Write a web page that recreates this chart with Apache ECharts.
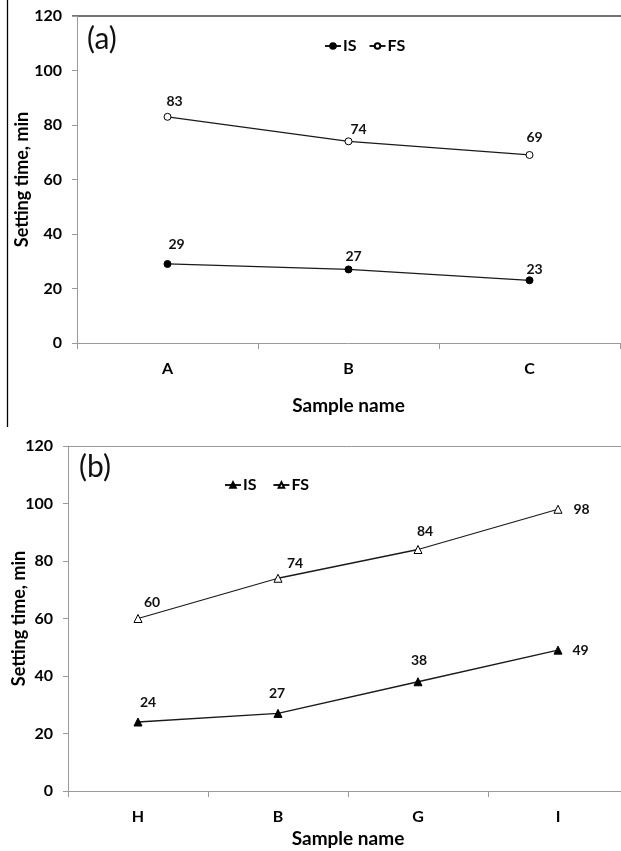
<!DOCTYPE html>
<html>
<head>
<meta charset="utf-8">
<script src="https://cdn.jsdelivr.net/npm/echarts@6/dist/echarts.min.js"></script>
<style>
  html, body { margin: 0; padding: 0; background: #fff; overflow: hidden; }
  #chart { width: 640px; height: 851px; }
</style>
</head>
<body>
<div id="chart"></div>
<script>
// Panel (a): samples A–C
var categoriesA = ['A', 'B', 'C'];
var initialSetA = [29, 27, 23];
var finalSetA = [83, 74, 69];

// Panel (b): samples H, B, G, I
var categoriesB = ['H', 'B', 'G', 'I'];
var initialSetB = [24, 27, 38, 49];
var finalSetB = [60, 74, 84, 98];

var yTicks = [0, 20, 40, 60, 80, 100, 120];

var FONT = 'Lato, "Open Sans", sans-serif';

// label placement for each point: [dx, dy, side]
var labelPlaceA = {
  IS: [[9, -3], [5, 3], [5, 5]],
  FS: [[7, 1], [10, 4], [5, -1]]
};
var labelPlaceB = {
  IS: [[10, -3], [-1, -3], [1, -5], [17, 0, 'right']],
  FS: [[14, 0], [17, 2], [7, -2], [18, 0, 'right']]
};

function buildData(values, place) {
  return values.map(function (v, i) {
    var p = place[i];
    var side = p[2] || 'top';
    return {
      value: v,
      label: {
        position: side,
        distance: side === 'top' ? 5 : 0,
        offset: side === 'top' ? [p[0], p[1]] : [p[0] - 7, p[1]]
      }
    };
  });
}

function lineSeries(name, values, place, idx, symbol, filled, size) {
  return {
    type: 'line',
    name: name,
    xAxisIndex: idx,
    yAxisIndex: idx,
    data: buildData(values, place),
    symbol: symbol,
    symbolSize: size,
    showAllSymbol: true,
    lineStyle: { color: '#1a1a1a', width: 1.3 },
    itemStyle: {
      color: filled ? '#000' : '#fff',
      borderColor: '#000',
      borderWidth: 1
    },
    label: {
      show: true,
      color: '#111',
      fontFamily: FONT,
      fontWeight: 'bold',
      fontSize: 14
    },
    emphasis: { disabled: true },
    animation: false,
    z: 3
  };
}

function yAxisCfg(idx) {
  return {
    type: 'value',
    gridIndex: idx,
    min: 0,
    max: yTicks[yTicks.length - 1],
    interval: yTicks[1] - yTicks[0],
    name: 'Setting time, min',
    nameLocation: 'middle',
    nameGap: idx === 0 ? 46 : 40,
    nameRotate: 90,
    nameMoveOverlap: false,
    nameTextStyle: { color: '#000', fontFamily: FONT, fontWeight: 'bold', fontSize: 18 },
    axisLine: { show: true, lineStyle: { color: '#9a9a9a', width: 1 } },
    axisTick: { show: true, length: 5, lineStyle: { color: '#9a9a9a' } },
    axisLabel: {
      color: '#000', fontFamily: FONT, fontWeight: 'bold', fontSize: 16, margin: 15
    },
    splitLine: { show: false }
  };
}

function xAxisCfg(idx, cats, gap) {
  return {
    type: 'category',
    gridIndex: idx,
    data: cats,
    boundaryGap: true,
    name: 'Sample name',
    nameLocation: 'middle',
    nameGap: gap,
    nameMoveOverlap: false,
    nameTextStyle: { color: '#000', fontFamily: FONT, fontWeight: 'bold', fontSize: 19 },
    axisLine: { show: true, lineStyle: { color: '#9a9a9a', width: 1 } },
    axisTick: { show: true, length: 6, alignWithLabel: false, lineStyle: { color: '#9a9a9a' } },
    axisLabel: { color: '#000', fontFamily: FONT, fontWeight: 'bold', fontSize: 16, margin: 18 }
  };
}

var chart = echarts.init(document.getElementById('chart'), null, { renderer: 'canvas' });

var legendText = { color: '#000', fontFamily: FONT, fontWeight: 'bold', fontSize: 16, padding: [0, 0, 0, -3] };

var option = {
  backgroundColor: '#fff',
  animation: false,
  grid: [
    { left: 77, width: 543, top: 16, height: 327, outerBoundsMode: 'none', containLabel: false },
    { left: 68, width: 560, top: 446, height: 345, outerBoundsMode: 'none', containLabel: false }
  ],
  legend: [
    {
      data: ['IS', 'FS'],
      left: 319, top: 33,
      itemWidth: 16, itemHeight: 7, itemGap: 12,
      textStyle: legendText,
      selectedMode: false
    },
    {
      data: ['IS ', 'FS '],
      left: 219, top: 472,
      itemWidth: 16, itemHeight: 7, itemGap: 12,
      textStyle: legendText,
      selectedMode: false
    }
  ],
  xAxis: [xAxisCfg(0, categoriesA, 53), xAxisCfg(1, categoriesB, 38)],
  yAxis: [yAxisCfg(0), yAxisCfg(1)],
  series: [
    lineSeries('IS', initialSetA, labelPlaceA.IS, 0, 'circle', true, 7),
    lineSeries('FS', finalSetA, labelPlaceA.FS, 0, 'circle', false, 7),
    lineSeries('IS ', initialSetB, labelPlaceB.IS, 1, 'triangle', true, 8),
    lineSeries('FS ', finalSetB, labelPlaceB.FS, 1, 'triangle', false, 8)
  ],
  graphic: [
    // frame edge on the left of panel (a)
    { type: 'line', shape: { x1: 7.5, y1: 0, x2: 7.5, y2: 427 }, style: { stroke: '#000', lineWidth: 1.3 }, silent: true },
    // top border of panel (a)
    { type: 'line', shape: { x1: 72, y1: 16, x2: 640, y2: 16 }, style: { stroke: '#444', lineWidth: 1.6 }, silent: true },
    // top border of panel (b)
    { type: 'line', shape: { x1: 63, y1: 446.5, x2: 640, y2: 446.5 }, style: { stroke: '#9a9a9a', lineWidth: 1 }, silent: true },
    { type: 'text', left: 87, top: 24, style: { text: '(a)', fill: '#111', font: '30px ' + FONT } },
    { type: 'text', left: 79, top: 452, style: { text: '(b)', fill: '#111', font: '30px ' + FONT } }
  ]
};

chart.setOption(option);
</script>
</body>
</html>
